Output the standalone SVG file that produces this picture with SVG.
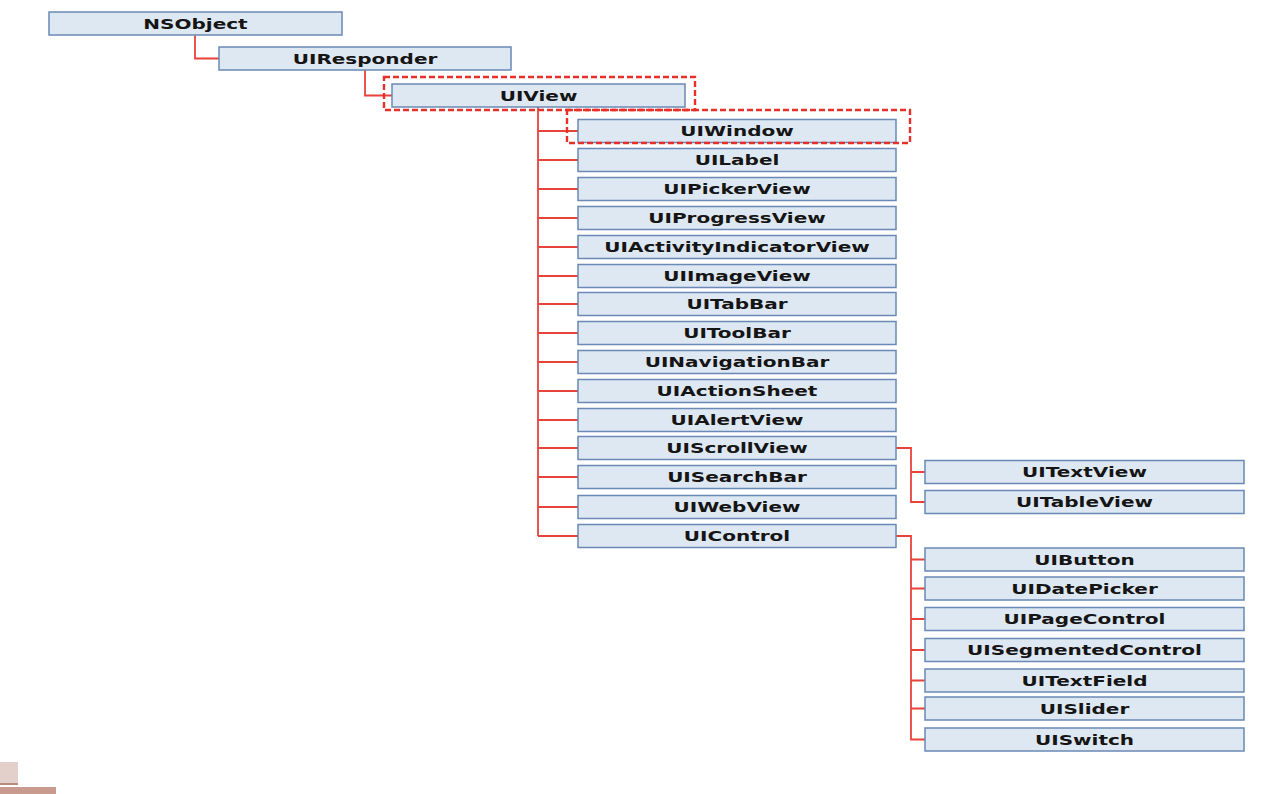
<svg xmlns="http://www.w3.org/2000/svg" width="1288" height="794" viewBox="0 0 1288 794">
<style>
.b{fill:#dee8f3;stroke:#6a89b4;stroke-width:1.5}
.t{font-family:"DejaVu Sans",sans-serif;font-weight:bold;font-size:14.5px;fill:#151515;text-anchor:middle}
.c{fill:none;stroke:#e8433b;stroke-width:1.8}
.d{fill:none;stroke:#e8302a;stroke-width:2.4;stroke-dasharray:6 3}
</style>
<rect width="1288" height="794" fill="#ffffff"/>
<g id="connectors">
<path class="c" d="M195 35V58.5H219"/>
<path class="c" d="M365 70V95.5H392"/>
<path class="c" d="M538 107V536"/>
<path class="c" d="M538 131H578M538 160H578M538 189H578M538 218H578M538 247H578M538 276H578M538 304H578M538 333H578M538 362H578M538 391H578M538 420H578M538 448H578M538 477H578M538 507H578M538 536H578"/>
<path class="c" d="M896 448H911V502H925M911 472H925"/>
<path class="c" d="M896 536H911V739.5H925M911 559.5H925M911 588.5H925M911 619H925M911 650H925M911 680.5H925M911 708.5H925"/>
</g>
<g id="NSObject"><rect class="b" x="49" y="12" width="293" height="23"/><text class="t" transform="translate(195.5 28.5) scale(1.38 1)">NSObject</text></g>
<g id="UIResponder"><rect class="b" x="219" y="47" width="292" height="23"/><text class="t" transform="translate(365 63.5) scale(1.38 1)">UIResponder</text></g>
<g id="UIView"><rect class="b" x="392" y="84" width="293" height="23"/><text class="t" transform="translate(538.5 100.5) scale(1.38 1)">UIView</text><rect class="d" x="384" y="77" width="311" height="33"/></g>
<g id="UIWindow"><rect class="b" x="578" y="119.5" width="318" height="23"/><text class="t" transform="translate(737 136) scale(1.38 1)">UIWindow</text><rect class="d" x="567" y="110" width="343" height="33"/></g>
<g id="UILabel"><rect class="b" x="578" y="148.5" width="318" height="23"/><text class="t" transform="translate(737 165) scale(1.38 1)">UILabel</text></g>
<g id="UIPickerView"><rect class="b" x="578" y="177.5" width="318" height="23"/><text class="t" transform="translate(737 194) scale(1.38 1)">UIPickerView</text></g>
<g id="UIProgressView"><rect class="b" x="578" y="206.5" width="318" height="23"/><text class="t" transform="translate(737 223) scale(1.38 1)">UIProgressView</text></g>
<g id="UIActivityIndicatorView"><rect class="b" x="578" y="235.5" width="318" height="23"/><text class="t" transform="translate(737 252) scale(1.38 1)">UIActivityIndicatorView</text></g>
<g id="UIImageView"><rect class="b" x="578" y="264.5" width="318" height="23"/><text class="t" transform="translate(737 281) scale(1.38 1)">UIImageView</text></g>
<g id="UITabBar"><rect class="b" x="578" y="292.5" width="318" height="23"/><text class="t" transform="translate(737 309) scale(1.38 1)">UITabBar</text></g>
<g id="UIToolBar"><rect class="b" x="578" y="321.5" width="318" height="23"/><text class="t" transform="translate(737 338) scale(1.38 1)">UIToolBar</text></g>
<g id="UINavigationBar"><rect class="b" x="578" y="350.5" width="318" height="23"/><text class="t" transform="translate(737 367) scale(1.38 1)">UINavigationBar</text></g>
<g id="UIActionSheet"><rect class="b" x="578" y="379.5" width="318" height="23"/><text class="t" transform="translate(737 396) scale(1.38 1)">UIActionSheet</text></g>
<g id="UIAlertView"><rect class="b" x="578" y="408.5" width="318" height="23"/><text class="t" transform="translate(737 425) scale(1.38 1)">UIAlertView</text></g>
<g id="UIScrollView"><rect class="b" x="578" y="436.5" width="318" height="23"/><text class="t" transform="translate(737 453) scale(1.38 1)">UIScrollView</text></g>
<g id="UISearchBar"><rect class="b" x="578" y="465.5" width="318" height="23"/><text class="t" transform="translate(737 482) scale(1.38 1)">UISearchBar</text></g>
<g id="UIWebView"><rect class="b" x="578" y="495.5" width="318" height="23"/><text class="t" transform="translate(737 512) scale(1.38 1)">UIWebView</text></g>
<g id="UIControl"><rect class="b" x="578" y="524.5" width="318" height="23"/><text class="t" transform="translate(737 541) scale(1.38 1)">UIControl</text></g>
<g id="UITextView"><rect class="b" x="925" y="460.5" width="319" height="23"/><text class="t" transform="translate(1084.5 477) scale(1.38 1)">UITextView</text></g>
<g id="UITableView"><rect class="b" x="925" y="490.5" width="319" height="23"/><text class="t" transform="translate(1084.5 507) scale(1.38 1)">UITableView</text></g>
<g id="UIButton"><rect class="b" x="925" y="548" width="319" height="23"/><text class="t" transform="translate(1084.5 564.5) scale(1.38 1)">UIButton</text></g>
<g id="UIDatePicker"><rect class="b" x="925" y="577" width="319" height="23"/><text class="t" transform="translate(1084.5 593.5) scale(1.38 1)">UIDatePicker</text></g>
<g id="UIPageControl"><rect class="b" x="925" y="607.5" width="319" height="23"/><text class="t" transform="translate(1084.5 624) scale(1.38 1)">UIPageControl</text></g>
<g id="UISegmentedControl"><rect class="b" x="925" y="638.5" width="319" height="23"/><text class="t" transform="translate(1084.5 655) scale(1.38 1)">UISegmentedControl</text></g>
<g id="UITextField"><rect class="b" x="925" y="669" width="319" height="23"/><text class="t" transform="translate(1084.5 685.5) scale(1.38 1)">UITextField</text></g>
<g id="UISlider"><rect class="b" x="925" y="697" width="319" height="23"/><text class="t" transform="translate(1084.5 713.5) scale(1.38 1)">UISlider</text></g>
<g id="UISwitch"><rect class="b" x="925" y="728" width="319" height="23"/><text class="t" transform="translate(1084.5 744.5) scale(1.38 1)">UISwitch</text></g>
<rect x="0" y="762" width="18" height="22" fill="#e4d0ca"/>
<rect x="0" y="783" width="18" height="2" fill="#b88a7a"/>
<rect x="0" y="787" width="56" height="7" fill="#c99a8e"/>
</svg>
